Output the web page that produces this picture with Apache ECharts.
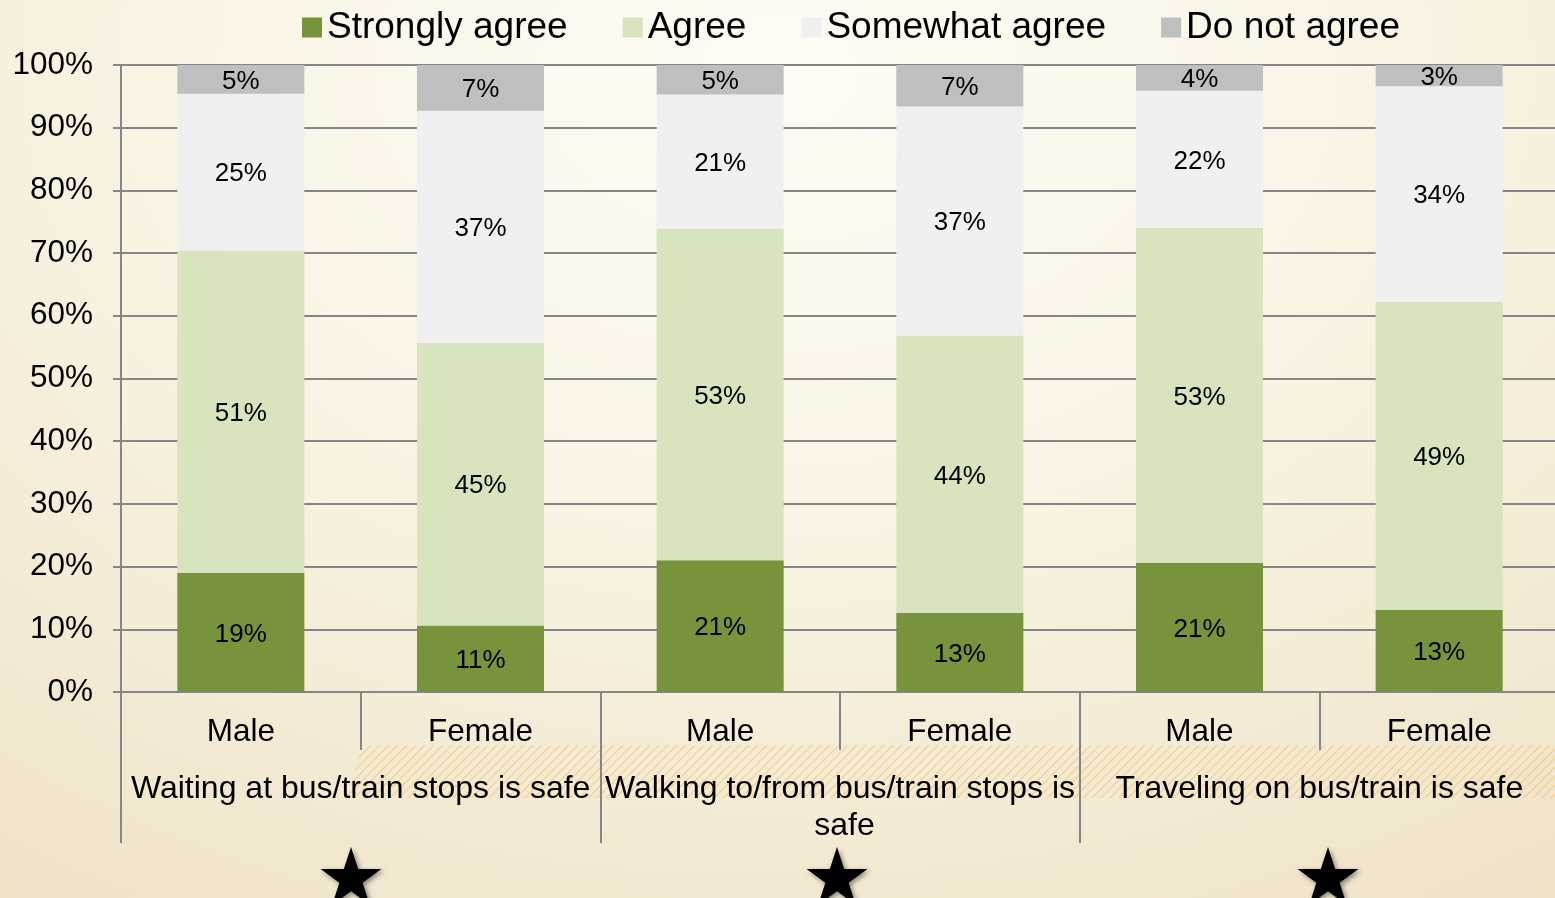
<!DOCTYPE html>
<html>
<head>
<meta charset="utf-8">
<script src="https://cdn.jsdelivr.net/npm/echarts@6/dist/echarts.min.js"></script>
<style>
html,body{margin:0;padding:0;}
body{width:1555px;height:898px;overflow:hidden;
background: radial-gradient(ellipse 90% 110% at 50% 8%, #FEFCF4 0%, #FAF5E6 40%, #F4EBD5 75%, #EFE3C8 100%);}
#chart{width:1555px;height:898px;}
</style>
</head>
<body>
<div id="chart"></div>
<script>
const categories = ['Male', 'Female', 'Male', 'Female', 'Male', 'Female'];
const groups = ['Waiting at bus/train stops is safe', 'Walking to/from bus/train stops is safe', 'Traveling on bus/train is safe'];
const seriesNames = ['Strongly agree', 'Agree', 'Somewhat agree', 'Do not agree'];
const stronglyAgree = [19.0, 10.6, 21.0, 12.6, 20.6, 13.1];
const agree = [51.4, 45.1, 52.9, 44.2, 53.4, 49.1];
const somewhatAgree = [25.0, 37.0, 21.4, 36.6, 21.9, 34.4];
const doNotAgree = [4.6, 7.3, 4.7, 6.6, 4.1, 3.4];
const yTicks = [0, 10, 20, 30, 40, 50, 60, 70, 80, 90, 100];

const colors = ['#77933C', '#D7E4BD', '#F0F0F0', '#BFBFBF'];
const FONT = '"Liberation Sans", Arial, sans-serif';
const axisGray = '#868686';

// hatch pattern canvas
const pc = document.createElement('canvas');
pc.width = 9; pc.height = 9;
const pctx = pc.getContext('2d');
pctx.strokeStyle = 'rgba(247,192,100,0.55)';
pctx.lineWidth = 1.5;
pctx.beginPath();
pctx.moveTo(-1, 10); pctx.lineTo(10, -1);
pctx.moveTo(-5, 5); pctx.lineTo(5, -5);
pctx.moveTo(4, 14); pctx.lineTo(14, 4);
pctx.stroke();

function starPoints(cx, cy, R) {
  const r = R * 0.382;
  const pts = [];
  for (let i = 0; i < 10; i++) {
    const rad = (i % 2 === 0) ? R : r;
    const a = -Math.PI / 2 + i * Math.PI / 5;
    pts.push([cx + rad * Math.cos(a), cy + rad * Math.sin(a)]);
  }
  return pts;
}
const starX = [351, 837, 1328];

const chart = echarts.init(document.getElementById('chart'), null, {renderer: 'canvas'});

const dataSets = [stronglyAgree, agree, somewhatAgree, doNotAgree];
const series = dataSets.map((d, i) => ({
  name: seriesNames[i],
  type: 'bar',
  stack: 'total',
  xAxisIndex: 0,
  barWidth: '53%',
  data: d,
  itemStyle: {color: colors[i]},
  label: {
    show: true,
    position: 'inside',
    offset: [0, 2],
    color: '#000',
    fontFamily: FONT,
    fontSize: 26,
    formatter: p => Math.round(p.value) + '%'
  }
}));

const graphic = [
  {
    type: 'polygon',
    z: -10,
    silent: true,
    shape: {points: [[362, 745], [1555, 745], [1555, 798], [346, 798]]},
    style: {fill: {image: pc, repeat: 'repeat'}}
  }
].concat(starX.map(x => ({
  type: 'polygon',
  silent: true,
  shape: {points: starPoints(x, 879, 32)},
  style: {fill: '#000', shadowBlur: 5, shadowColor: 'rgba(0,0,0,0.45)', shadowOffsetX: 2, shadowOffsetY: 2}
})));

chart.setOption({
  backgroundColor: 'transparent',
  animation: false,
  textStyle: {fontFamily: FONT},
  legend: {
    data: seriesNames,
    left: 297,
    top: 4,
    itemWidth: 20,
    itemHeight: 20,
    itemGap: 55,
    icon: 'rect',
    textStyle: {fontSize: 37, color: '#000', fontFamily: FONT}
  },
  grid: {left: 121, width: 1438, top: 65, bottom: 206, containLabel: false, outerBoundsMode: 'none'},
  xAxis: [
    {
      type: 'category',
      data: categories,
      position: 'bottom',
      axisLine: {show: true, lineStyle: {color: axisGray, width: 2}},
      axisTick: {show: true, interval: 0, length: 58, lineStyle: {color: axisGray, width: 2}},
      axisLabel: {fontSize: 31.5, color: '#000', fontFamily: FONT, margin: 24, interval: 0}
    },
    {
      type: 'category',
      data: groups,
      position: 'bottom',
      axisLine: {show: true, lineStyle: {color: axisGray, width: 2}},
      axisTick: {show: true, interval: 0, length: 151, lineStyle: {color: axisGray, width: 2}},
      axisLabel: {fontSize: 32, color: '#000', fontFamily: FONT, margin: 79, interval: 0,
        width: 478, overflow: 'break', lineHeight: 37, align: 'center'}
    }
  ],
  yAxis: {
    type: 'value',
    min: yTicks[0],
    max: yTicks[yTicks.length - 1],
    interval: 10,
    axisLine: {show: true, lineStyle: {color: axisGray, width: 2}},
    axisTick: {show: true, length: 8, lineStyle: {color: axisGray, width: 2}},
    axisLabel: {fontSize: 31.5, color: '#000', fontFamily: FONT, margin: 28, formatter: '{value}%'},
    splitLine: {show: true, lineStyle: {color: axisGray, width: 2}}
  },
  series: series,
  graphic: graphic
});
</script>
</body>
</html>
